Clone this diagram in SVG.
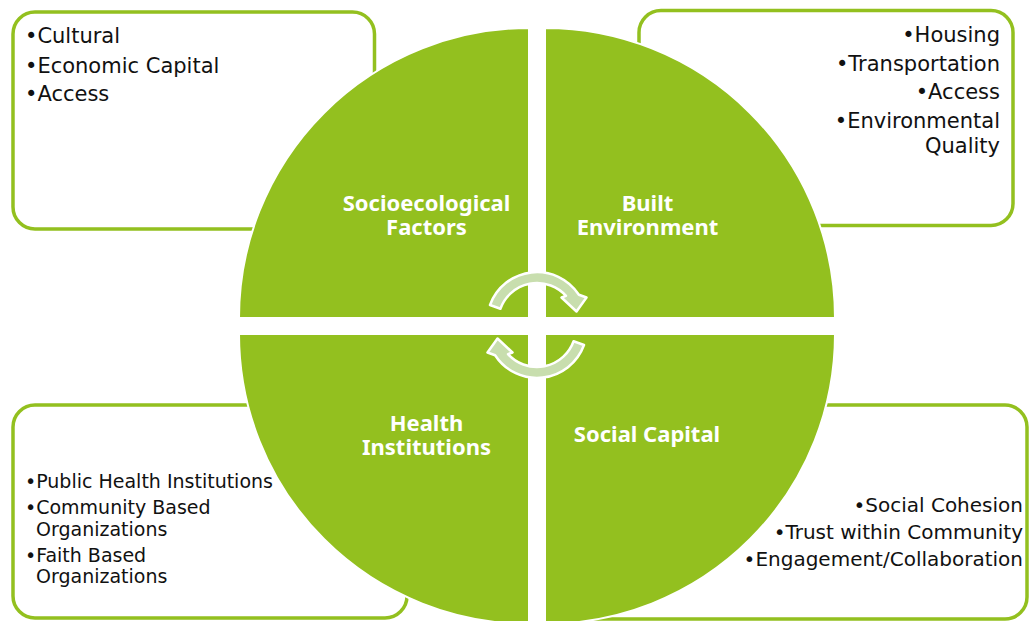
<svg xmlns="http://www.w3.org/2000/svg" width="1029" height="621" viewBox="0 0 1029 621">
  <style>
    .box { fill: #ffffff; stroke: #93C01F; stroke-width: 3.5; }
    .quad { fill: #93C01F; stroke: #ffffff; stroke-width: 2; }
    .body { font-family: "DejaVu Sans", "Liberation Sans", sans-serif; fill: #111111; }
    .lbl { font-family: "Noto Sans", "DejaVu Sans", sans-serif; font-weight: bold; font-size: 22px; fill: #ffffff; text-anchor: middle; }
    .arrow { fill: #C8DEAE; stroke: #ffffff; stroke-width: 2.5; stroke-linejoin: round; }
  </style>
  <rect width="1029" height="621" fill="#ffffff"/>

  <g id="box-socioecological">
    <rect class="box" x="13" y="12" width="361.5" height="217" rx="22"/>
    <text class="body" font-size="21"><tspan x="25" y="43.3">•Cultural</tspan><tspan x="25" y="72.7">•Economic Capital</tspan><tspan x="25" y="100.7">•Access</tspan></text>
  </g>

  <g id="box-built">
    <rect class="box" x="639" y="10.5" width="374" height="215" rx="22"/>
    <text class="body" font-size="21" text-anchor="end"><tspan x="1000" y="41.7">•Housing</tspan><tspan x="1000" y="70.7">•Transportation</tspan><tspan x="1000" y="99.3">•Access</tspan><tspan x="1000" y="128.3">•Environmental</tspan><tspan x="1000" y="153.3">Quality</tspan></text>
  </g>

  <g id="box-health">
    <rect class="box" x="13" y="405" width="394" height="213" rx="22"/>
    <text class="body" font-size="19"><tspan x="25" y="488.3">•Public Health Institutions</tspan><tspan x="25" y="514">•Community Based</tspan><tspan x="36" y="535.7">Organizations</tspan><tspan x="25" y="561.7">•Faith Based</tspan><tspan x="36" y="583.3">Organizations</tspan></text>
  </g>

  <g id="box-social">
    <rect class="box" x="560" y="405" width="467" height="214" rx="22"/>
    <text class="body" font-size="20" text-anchor="end"><tspan x="1023" y="511.7">•Social Cohesion</tspan><tspan x="1023" y="539">•Trust within Community</tspan><tspan x="1023" y="566">•Engagement/Collaboration</tspan></text>
  </g>

  <g id="node-socioecological">
    <path class="quad" d="M529,318 L239,318 A290,290 0 0 1 529,28 Z"/>
    <text class="lbl"><tspan x="426.5" y="211">Socioecological</tspan><tspan x="426.5" y="235">Factors</tspan></text>
  </g>
  <g id="node-built">
    <path class="quad" d="M545,318 L545,28 A290,290 0 0 1 835,318 Z"/>
    <text class="lbl"><tspan x="647.5" y="211">Built</tspan><tspan x="647.5" y="235">Environment</tspan></text>
  </g>
  <g id="node-health">
    <path class="quad" d="M529,334 L529,624 A290,290 0 0 1 239,334 Z"/>
    <text class="lbl"><tspan x="426.5" y="431">Health</tspan><tspan x="426.5" y="455">Institutions</tspan></text>
  </g>
  <g id="node-social">
    <path class="quad" d="M545,334 L835,334 A290,290 0 0 1 545,624 Z"/>
    <text class="lbl"><tspan x="647" y="441.7">Social Capital</tspan></text>
  </g>

  <g id="connectors">
    <path id="cycle-top" class="arrow" d="M490,305 A50,50 0 0 1 578.9,294.8 L586.5,297.5 L576.5,311.5 L561.5,297.5 L566,295.9 A39,39 0 0 0 500.4,308.7 Z"/>
    <path id="cycle-bottom" class="arrow" transform="rotate(180 537 325)" d="M490,305 A50,50 0 0 1 578.9,294.8 L586.5,297.5 L576.5,311.5 L561.5,297.5 L566,295.9 A39,39 0 0 0 500.4,308.7 Z"/>
  </g>
</svg>
